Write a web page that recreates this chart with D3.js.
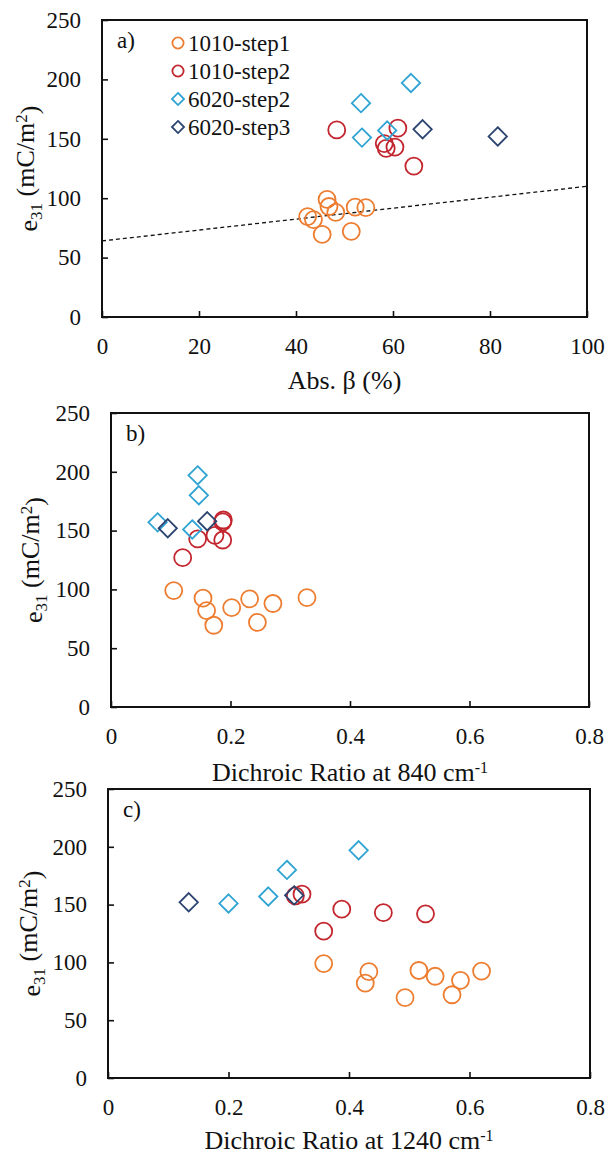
<!DOCTYPE html>
<html>
<head>
<meta charset="utf-8">
<script src="https://cdn.jsdelivr.net/npm/d3@7"></script>
<style>
  body { margin: 0; background: #fff; }
</style>
</head>
<body>
<svg id="chart" width="610" height="1155"></svg>
<script>
const serif = "'Liberation Serif', 'Times New Roman', Times, 'DejaVu Serif', serif";

// series names + colours
const seriesNames = ["1010-step1", "1010-step2", "6020-step2", "6020-step3"];
const seriesColors = ["#ED7D31", "#C3262E", "#2FA4D3", "#2B4470"];
const seriesShapes = ["circle", "circle", "diamond", "diamond"];

// e31 (mC/m2), shared by the three panels
const e31Step1 = [99, 93, 92.5, 92, 88, 84.5, 82, 72, 69.5];
const e31Step2 = [159, 157.5, 146, 143, 142, 127];
const e31Six2 = [197, 180, 157, 151];
const e31Six3 = [158, 152];

// a) Abs. beta (%)
const absStep1 = [46.4, 46.8, 52.2, 54.4, 48.2, 42.4, 43.6, 51.4, 45.4];
const absStep2 = [61.0, 48.4, 58.2, 60.4, 58.6, 64.3];
const absSix2 = [63.7, 53.4, 58.8, 53.6];
const absSix3 = [66.1, 81.6];

// b) dichroic ratio at 840 cm-1
const dr840Step1 = [0.105, 0.328, 0.154, 0.232, 0.271, 0.202, 0.160, 0.245, 0.172];
const dr840Step2 = [0.188, 0.187, 0.174, 0.145, 0.187, 0.120];
const dr840Six2 = [0.145, 0.147, 0.078, 0.136];
const dr840Six3 = [0.161, 0.095];

// c) dichroic ratio at 1240 cm-1
const dr1240Step1 = [0.358, 0.516, 0.620, 0.433, 0.543, 0.585, 0.427, 0.571, 0.493];
const dr1240Step2 = [0.322, 0.311, 0.388, 0.457, 0.527, 0.358];
const dr1240Six2 = [0.416, 0.297, 0.266, 0.200];
const dr1240Six3 = [0.309, 0.134];

// dashed trend line in a)
const trendX = [0, 100];
const trendY = [64, 110];

const yTicks = [0, 50, 100, 150, 200, 250];
const absTicks = [0, 20, 40, 60, 80, 100];
const drTicks = [0, 0.2, 0.4, 0.6, 0.8];

const e31All = [e31Step1, e31Step2, e31Six2, e31Six3];

const panels = [
  { label: "a)", left: 102, right: 587, top: 20, bottom: 317, xMax: 100, ticks: absTicks,
    xs: [absStep1, absStep2, absSix2, absSix3], yTitleX: 28, xTitleY: 389, xTitle: ["Abs. β (%)", null] },
  { label: "b)", left: 111, right: 589, top: 413, bottom: 707, xMax: 0.8, ticks: drTicks,
    xs: [dr840Step1, dr840Step2, dr840Six2, dr840Six3], yTitleX: 33, xTitleY: 781, xTitle: ["Dichroic Ratio at 840 cm", "-1"] },
  { label: "c)", left: 108, right: 590, top: 789, bottom: 1078, xMax: 0.8, ticks: drTicks,
    xs: [dr1240Step1, dr1240Step2, dr1240Six2, dr1240Six3], yTitleX: 31, xTitleY: 1149, xTitle: ["Dichroic Ratio at 1240 cm", "-1"] }
];

const svg = d3.select("#chart");

function marker(g, shape, color, cx, cy, size) {
  if (shape === "circle") {
    g.append("circle")
      .attr("cx", cx).attr("cy", cy).attr("r", size)
      .attr("fill", "none").attr("stroke", color).attr("stroke-width", 1.8);
  } else {
    const s = size * 1.08;
    g.append("path")
      .attr("d", `M${cx},${cy - s}L${cx + s},${cy}L${cx},${cy + s}L${cx - s},${cy}Z`)
      .attr("fill", "none").attr("stroke", color).attr("stroke-width", 1.8);
  }
}

panels.forEach((p, pi) => {
  const x = d3.scaleLinear().domain([0, p.xMax]).range([p.left, p.right]);
  const y = d3.scaleLinear().domain([0, 250]).range([p.bottom, p.top]);
  const g = svg.append("g");

  // axes with inward ticks
  const xAxis = g.append("g")
    .attr("transform", `translate(0,${p.bottom})`)
    .call(d3.axisBottom(x).tickValues(p.ticks).tickSizeInner(-6).tickSizeOuter(0).tickPadding(21).tickFormat(d => d));
  const yAxis = g.append("g")
    .attr("transform", `translate(${p.left},0)`)
    .call(d3.axisLeft(y).tickValues(yTicks).tickSizeInner(-6).tickSizeOuter(0).tickPadding(21).tickFormat(d => d));
  [xAxis, yAxis].forEach(a => {
    a.select(".domain").remove();
    a.selectAll(".tick line").attr("stroke", "#111").attr("stroke-width", 1.6);
    a.selectAll(".tick text")
      .style("font-family", serif).style("font-size", "23px").attr("fill", "#111");
  });

  // frame
  g.append("rect")
    .attr("x", p.left).attr("y", p.top)
    .attr("width", p.right - p.left).attr("height", p.bottom - p.top)
    .attr("fill", "none").attr("stroke", "#111").attr("stroke-width", 2);

  // panel label
  g.append("text").attr("x", p.left + 15).attr("y", p.top + 28)
    .style("font-family", serif).style("font-size", "23px").attr("fill", "#111").text(p.label);

  // trend line (a only)
  if (pi === 0) {
    g.append("line")
      .attr("x1", x(trendX[0])).attr("y1", y(trendY[0]))
      .attr("x2", x(trendX[1])).attr("y2", y(trendY[1]))
      .attr("stroke", "#111").attr("stroke-width", 1.3).attr("stroke-dasharray", "4,3");
  }

  // points
  p.xs.forEach((xv, si) => {
    xv.forEach((v, i) => {
      marker(g, seriesShapes[si], seriesColors[si], x(v), y(e31All[si][i]), 8.5);
    });
  });

  // y title
  const yt = g.append("text")
    .attr("transform", `translate(${p.yTitleX},${(p.top + p.bottom) / 2}) rotate(-90)`)
    .attr("text-anchor", "middle")
    .attr("dy", "0.35em")
    .attr("fill", "#111")
    .style("font-family", serif)
    .style("font-size", "26px");
  yt.append("tspan").text("e");
  yt.append("tspan").attr("dy", "0.3em").style("font-size", "17px").text("31");
  yt.append("tspan").attr("dy", "-0.3em").text(" (mC/m");
  yt.append("tspan").attr("dy", "-0.45em").style("font-size", "17px").text("2");
  yt.append("tspan").attr("dy", "0.45em").text(")");

  // x title
  const xt = g.append("text")
    .attr("x", (p.left + p.right) / 2).attr("y", p.xTitleY)
    .attr("text-anchor", "middle")
    .attr("fill", "#111")
    .style("font-family", serif)
    .style("font-size", "26px");
  xt.append("tspan").text(p.xTitle[0]);
  if (p.xTitle[1]) {
    xt.append("tspan").attr("dy", "-0.5em").style("font-size", "16px").text(p.xTitle[1]);
  }
});

// legend in a)
const leg = svg.append("g");
seriesNames.forEach((name, i) => {
  const cy = 43 + i * 28;
  marker(leg, seriesShapes[i], seriesColors[i], 178, cy, 5.6);
  leg.append("text").attr("x", 188).attr("y", cy + 8)
    .attr("fill", "#111")
    .style("font-family", serif).style("font-size", "23px").text(name);
});
</script>
</body>
</html>
